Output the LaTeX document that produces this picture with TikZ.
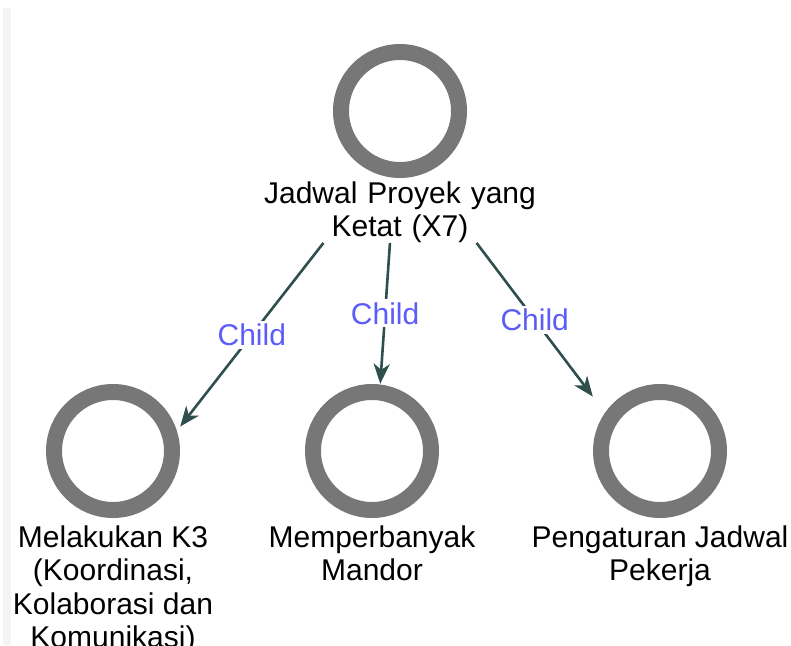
\documentclass[tikz,border=0pt]{standalone}
\usepackage{fontspec}
\setmainfont{Liberation Sans}
\usetikzlibrary{arrows.meta}
\definecolor{ringgray}{RGB}{119,119,119}
\definecolor{edgeteal}{RGB}{47,79,79}
\definecolor{childblue}{RGB}{92,92,250}
\definecolor{sidebar}{RGB}{244,244,244}
\begin{document}
\begin{tikzpicture}[x=1pt,y=-1pt,
  ringnode/.style={rectangle, minimum size=134pt, inner sep=0pt,
    path picture={\draw[ringgray, line width=16pt] (path picture bounding box.center) circle[radius=59pt];}},
  caption/.style={inner sep=0pt, align=center, font=\fontsize{30}{33.5}\selectfont, text=black},
  edge/.style={draw=edgeteal, line width=2.6pt, -{Stealth[length=20pt,width=16pt,inset=6pt]}},
  childlabel/.style={midway, fill=white, inner sep=3pt, text=childblue, font=\fontsize{30}{33.5}\selectfont}]
\useasboundingbox (0,0) rectangle (791,645);
% thin side strip along the left edge
\fill[sidebar] (3,8) rectangle (11,645);

% ring nodes
\node[ringnode] (root) at (400,111) {};
\node[ringnode] (leftring) at (113,451) {};
\node[ringnode] (midring) at (372,451) {};
\node[ringnode] (rightring) at (660,451) {};

% captions
\node[caption, text width=272pt] (roottext) at (400,212) {Jadwal Proyek yang\\Ketat (X7)};
\node[caption, anchor=north] (lefttext) at (113,525.5) {Melakukan K3\\(Koordinasi,\\Kolaborasi dan\\Komunikasi)};
\node[caption, anchor=north] (midtext) at (372,525.5) {Memperbanyak\\Mandor};
\node[caption, anchor=north] (righttext) at (660,525.5) {Pengaturan Jadwal\\Pekerja};

% parent-child connectors
\draw[edge] (roottext.202) -- node[childlabel] {Child} (leftring.20);
\draw[edge] (roottext.252) -- node[childlabel] {Child} (midring.83);
\draw[edge] (roottext.338) -- node[childlabel] {Child} (rightring.141);
\end{tikzpicture}
\end{document}
